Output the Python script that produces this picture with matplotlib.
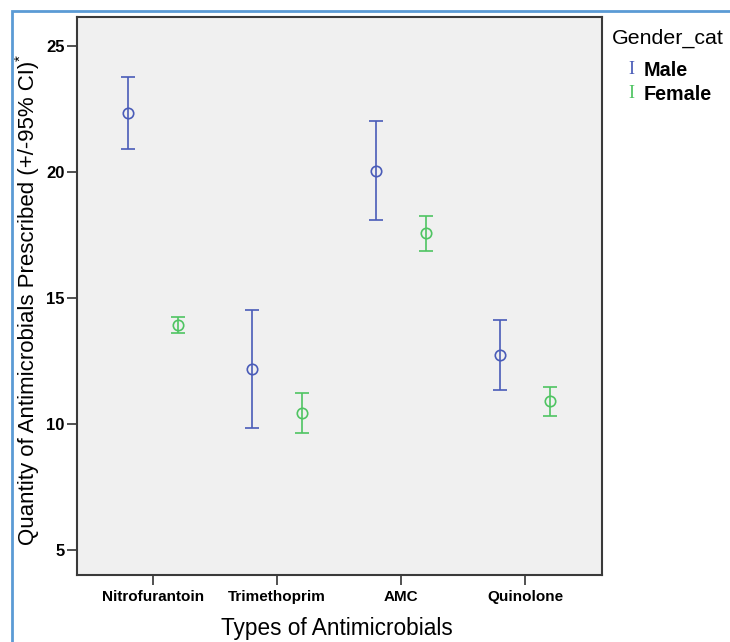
import numpy as np
import matplotlib
matplotlib.use('Agg')
import matplotlib.pyplot as plt
from matplotlib.patches import Rectangle

# Datos (media e IC 95%)
categories = ['Nitrofurantoin', 'Trimethoprim', 'AMC', 'Quinolone']
male_mean = [22.33, 12.18, 20.05, 12.74]
male_low = [20.90, 9.83, 18.10, 11.34]
male_high = [23.78, 14.52, 22.02, 14.13]
female_mean = [13.93, 10.45, 17.57, 10.92]
female_low = [13.60, 9.63, 16.85, 10.32]
female_high = [14.26, 11.23, 18.25, 11.48]
y_ticks = [5, 10, 15, 20, 25]

male_color = '#4A5CB8'
female_color = '#4FC462'


def main():
    plt.rcParams['font.family'] = ['Liberation Sans', 'DejaVu Sans']
    fig = plt.figure(figsize=(7.3, 6.42), dpi=100)
    ax = fig.add_axes([77 / 730, 67 / 642, 525 / 730, 558 / 642])
    ax.set_facecolor('#F0F0F0')

    x = np.arange(len(categories))
    series = [
        (x - 0.2, male_mean, male_low, male_high, male_color),
        (x + 0.2, female_mean, female_low, female_high, female_color),
    ]
    for xs, mean, low, high, col in series:
        mean = np.array(mean)
        err = [mean - np.array(low), np.array(high) - mean]
        ax.errorbar(xs, mean, yerr=err, fmt='o', mfc='none', mec=col,
                    ms=7.5, mew=1.2, ecolor=col, elinewidth=1.2,
                    capsize=5, capthick=1.2)

    ax.set_xlim(-0.613, 3.62)
    ax.set_ylim(4.0, 26.15)
    ax.set_xticks(x)
    ax.set_xticklabels(categories, fontsize=11, fontweight='bold')
    ax.set_yticks(y_ticks)
    ax.set_yticklabels([str(v) for v in y_ticks], fontsize=12, fontweight='bold')
    ax.tick_params(axis='both', length=7, width=1.2, color='#333333', pad=2)
    ax.tick_params(axis='x', pad=4)

    for s in ax.spines.values():
        s.set_color('#3A3A3A')
        s.set_linewidth(1.5)

    ax.set_xlabel('Types of Antimicrobials', fontsize=16.3)
    ax.xaxis.set_label_coords(0.495, -0.075)
    ax.set_ylabel('Quantity of Antimicrobials Prescribed (+/-95% CI)', fontsize=16)
    ax.yaxis.set_label_coords(-0.072, 0.487)
    # asterisco pequeno no fim do rotulo
    fig.text(21 / 730, 1 - 58 / 642, '*', fontsize=11, rotation=90,
             ha='center', va='center')

    # legenda manual
    fig.text(612 / 730, 1 - 38 / 642, 'Gender_cat', fontsize=15.4, va='center', ha='left')
    fig.text(631 / 730, 1 - 70 / 642, 'I', color=male_color, fontsize=13,
             family='Liberation Serif', va='center', ha='center')
    fig.text(644 / 730, 1 - 70 / 642, 'Male', fontsize=14.2, fontweight='bold', va='center')
    fig.text(631 / 730, 1 - 94 / 642, 'I', color=female_color, fontsize=13,
             family='Liberation Serif', va='center', ha='center')
    fig.text(644 / 730, 1 - 94 / 642, 'Female', fontsize=14.2, fontweight='bold', va='center')

    # borda azul externa
    fig.patches.append(Rectangle((12 / 730, -0.1), 1.2, 1 - 11 / 642 + 0.1,
                                 transform=fig.transFigure, fill=False,
                                 edgecolor='#5B9BD5', linewidth=2))

    fig.savefig('out.png', dpi=100)


if __name__ == "__main__":
    main()
